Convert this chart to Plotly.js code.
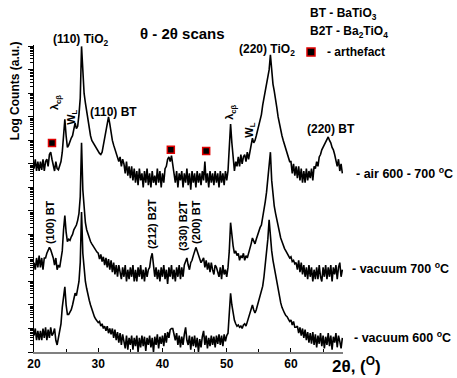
<!DOCTYPE html>
<html><head><meta charset="utf-8">
<script src="https://cdn.plot.ly/plotly-3.0.1.min.js"></script>
<style>html,body{margin:0;padding:0;background:#fff;}#chart{width:457px;height:378px;}</style>
</head><body><div id="chart"></div>
<script>
// 2θ sampling grid (degrees)
const TWO_THETA_START = 20;
const TWO_THETA_STEP = 0.2;

// log10(counts), one row per degree (x.0, x.2, x.4, x.6, x.8)
const logAir = [
 7.8, 8.2, 7.7, 8.1, 7.7,
 8.1, 7.75, 8.2, 7.7, 8.1,
 8.2, 7.9, 8.4, 8.5, 8.2,
 8.0, 7.7, 8.1, 7.8, 7.75,
 7.9, 8.1, 8.5, 9.4, 9.9,
 9.2, 8.7, 8.8, 9.0, 9.1,
 9.2, 9.5, 9.75, 9.5, 9.6,
 10.1, 10.8, 13.0, 11.6, 11.0,
 10.6, 10.2, 9.8, 9.5, 9.2,
 9.0, 8.9, 8.8, 8.7, 8.6,
 8.5, 8.45, 8.4, 8.5, 8.8,
 9.1, 9.5, 9.85, 10.0, 9.7,
 9.3, 9.0, 8.8, 8.6, 8.4,
 8.3, 8.1, 8.3, 7.9, 8.2,
 8.0, 7.6, 8.1, 7.5, 7.9,
 7.4, 7.9, 7.3, 7.8, 7.2,
 7.7, 7.1, 7.8, 7.3, 7.6,
 7.0, 7.7, 7.2, 7.8, 7.1,
 7.6, 7.0, 7.7, 7.2, 7.5,
 7.1, 7.8, 7.2, 7.7, 7.0,
 7.6, 7.2, 7.8, 7.9, 8.2,
 8.3, 8.1, 8.35, 7.9, 7.6,
 7.2, 7.7, 7.0, 7.6, 7.3,
 7.7, 7.0, 7.6, 7.2, 7.8,
 7.1, 7.6, 6.9, 7.7, 7.2,
 7.6, 7.0, 7.7, 7.2, 7.6,
 7.1, 7.7, 7.3, 8.1, 7.2,
 7.6, 7.0, 7.7, 7.2, 7.6,
 7.1, 7.7, 7.2, 7.6, 7.0,
 7.7, 7.2, 7.6, 7.1, 7.7,
 7.3, 7.7, 8.8, 9.7, 8.9,
 8.1, 7.7, 8.1, 7.9, 8.3,
 7.9, 8.4, 8.0, 8.3, 8.4,
 8.1, 8.5, 8.2, 8.5, 8.8,
 9.1, 8.9, 9.0, 9.2, 9.4,
 9.6, 9.85, 10.1, 10.5, 10.8,
 11.0, 11.3, 11.6, 12.0, 12.64,
 11.8, 11.4, 11.1, 10.8, 10.4,
 10.0, 9.7, 9.4, 9.2, 9.0,
 8.8, 8.6, 8.5, 8.3, 8.1,
 8.1, 7.6, 8.0, 7.5, 7.9,
 7.4, 7.9, 7.3, 7.8, 7.2,
 7.7, 7.2, 7.8, 7.3, 7.7,
 7.4, 7.8, 7.3, 7.9, 7.8,
 8.1, 7.9, 8.3, 8.4, 8.6,
 8.7, 8.8, 8.9, 9.0, 9.15,
 9.0, 8.9, 8.7, 8.6, 8.4,
 8.2, 7.9, 8.2, 7.7, 8.0,
 7.6
];

const logVac700 = [
 3.8, 3.5, 4.0, 3.6, 4.1,
 3.6, 4.0, 3.5, 4.0, 4.0,
 4.2, 4.3, 4.45, 4.35, 4.2,
 4.0, 3.7, 4.0, 3.5, 3.7,
 3.6, 3.9, 4.3, 5.2, 5.8,
 5.1, 4.7, 4.8, 4.75, 4.9,
 5.0, 5.2, 5.3, 5.4, 5.6,
 5.9, 6.6, 8.9, 6.9, 6.0,
 5.5, 5.2, 5.0, 4.8, 4.7,
 4.6, 4.5, 4.4, 4.3, 4.25,
 4.2, 3.95, 4.15, 3.85, 4.05,
 3.7, 4.0, 3.6, 3.95, 3.5,
 3.9, 3.4, 3.8, 3.3, 3.7,
 3.2, 3.7, 3.3, 3.1, 3.6,
 3.2, 3.7, 3.0, 3.5, 3.1,
 3.6, 3.2, 3.7, 3.0, 3.5,
 3.0, 3.6, 3.2, 3.7, 3.1,
 3.5, 3.0, 3.6, 3.2, 3.5,
 3.6, 4.0, 4.2, 3.7, 3.2,
 3.6, 3.1, 3.5, 3.0, 3.6,
 3.2, 3.7, 3.1, 3.5, 2.9,
 3.6, 3.2, 3.7, 3.1, 3.5,
 3.0, 3.6, 3.2, 3.7, 3.1,
 3.6, 3.2, 3.7, 3.9, 4.0,
 3.7, 3.5, 3.8, 3.9, 4.1,
 4.3, 4.45, 4.3, 4.1, 4.0,
 3.8, 3.9, 4.0, 3.6, 3.9,
 3.5, 3.8, 3.4, 3.8, 3.5,
 3.3, 3.7, 3.6, 3.4, 3.2,
 3.6, 3.1, 3.7, 3.3, 3.5,
 3.2, 3.6, 4.3, 5.5, 4.9,
 4.5, 4.2, 4.3, 4.1, 4.2,
 3.9, 4.1, 4.0, 4.2, 3.9,
 4.1, 4.0, 4.2, 4.3, 4.6,
 4.85, 4.7, 4.6, 4.8, 5.0,
 5.1, 5.3, 5.4, 5.7, 6.0,
 6.4, 6.8, 7.4, 8.0, 8.5,
 7.3, 6.6, 6.2, 5.9, 5.6,
 5.3, 5.0, 4.85, 4.7, 4.5,
 4.4, 4.3, 4.2, 4.1, 4.0,
 4.05, 3.85, 3.9, 3.75, 3.8,
 3.5, 3.9, 3.4, 3.8, 3.3,
 3.7, 3.2, 3.6, 3.1, 3.7,
 3.2, 3.6, 3.0, 3.5, 3.1,
 3.6, 3.1, 3.7, 3.2, 3.0,
 3.6, 3.2, 3.7, 3.1, 3.6,
 3.2, 3.7, 3.0, 3.6, 3.3,
 3.7, 3.1, 3.6, 3.8, 3.2,
 3.5
];

const logVac600 = [
 0.7, 1.0, 0.5, 0.9, 0.5,
 0.9, 0.5, 1.0, 0.6, 1.05,
 0.5, 0.95, 0.6, 1.05, 0.7,
 0.8, 1.0, 0.5, 0.3, 0.6,
 0.8, 1.2, 1.9, 2.5, 2.77,
 2.0, 1.6, 1.6, 1.7, 1.8,
 2.0, 2.3, 2.5, 2.4, 2.64,
 3.0, 3.8, 5.96, 4.2, 3.4,
 3.0, 2.7, 2.4, 2.2, 2.0,
 1.8, 1.65, 1.5, 1.4, 1.3,
 1.25, 1.3, 1.1, 1.2, 1.0,
 1.1, 0.9, 1.1, 0.8, 1.0,
 0.75, 1.0, 0.6, 0.95, 0.5,
 0.85, 0.4, 0.8, 0.3, 0.75,
 0.5, 0.15, 0.7, 0.1, 0.6,
 0.3, 0.7, 0.1, 0.6, 0.25,
 0.7, 0.0, 0.6, 0.2, 0.7,
 0.25, 0.65, 0.05, 0.6, 0.3,
 0.7, 0.2, 0.6, 0.0, 0.65,
 0.3, 0.75, 0.15, 0.65, 0.35,
 0.7, 0.25, 0.8, 0.4, 0.85,
 0.6, 0.95, 1.0, 1.0, 0.75,
 0.5, 0.8, 0.3, 0.7, 0.2,
 0.65, 0.3, 0.75, 1.05, 0.5,
 0.3, 0.7, 0.1, 0.65, 0.25,
 0.7, 0.2, 0.6, 0.0, 0.55,
 0.2, 0.65, 0.9, 0.3, 0.7,
 0.15, 0.6, 0.25, 0.7, 0.3,
 0.65, 0.2, 0.7, 0.35, 0.75,
 0.3, 0.7, 0.25, 0.75, 0.45,
 0.7, 0.8, 1.5, 2.5, 2.0,
 1.6, 1.35, 1.2, 1.1, 1.15,
 1.05, 1.1, 1.0, 1.15, 1.2,
 1.1, 1.3, 1.4, 1.6, 1.8,
 2.0, 1.8, 1.66, 1.8, 2.0,
 2.1, 2.3, 2.5, 2.8, 3.2,
 3.7, 4.2, 4.8, 5.62, 4.9,
 4.3, 3.9, 3.6, 3.3, 3.0,
 2.6, 2.3, 2.1, 1.9, 1.75,
 1.65, 1.55, 1.5, 1.4, 1.3,
 1.36, 1.15, 1.3, 1.05, 1.05,
 1.1, 0.8, 1.05, 0.7, 1.0,
 0.6, 0.95, 0.5, 0.85, 0.4,
 0.8, 0.35, 0.85, 0.3, 0.75,
 0.2, 0.7, 0.35, 0.8, 0.25,
 0.7, 0.15, 0.65, 0.3, 0.8,
 0.25, 0.7, 0.1, 0.65, 0.4,
 0.8, 0.2, 0.7, 0.45, 0.15,
 0.6
];

// artefact markers on the air-annealed pattern
const artefactX = [22.8, 41.3, 46.8];
const artefactLogY = [8.89, 8.6, 8.55];

const curveLabels = ['- air 600 - 700 <sup>o</sup>C', '- vacuum 700 <sup>o</sup>C', '- vacuum 600 <sup>o</sup>C'];

const twoTheta = logAir.map((_, i) => +(TWO_THETA_START + i * TWO_THETA_STEP).toFixed(2));
const toCounts = arr => arr.map(v => Math.pow(10, v));

const FONT = 'Liberation Sans, Arial, sans-serif';
const lineStyle = {color: '#000', width: 1.6};

const traces = [
  {x: twoTheta, y: toCounts(logVac600), mode: 'lines', line: lineStyle, hoverinfo: 'skip'},
  {x: twoTheta, y: toCounts(logVac700), mode: 'lines', line: lineStyle, hoverinfo: 'skip'},
  {x: twoTheta, y: toCounts(logAir), mode: 'lines', line: lineStyle, hoverinfo: 'skip'},
  {x: artefactX, y: toCounts(artefactLogY), mode: 'markers', hoverinfo: 'skip',
   marker: {symbol: 'square', size: 7, color: '#000', line: {color: '#e00000', width: 1.5}}}
];

const bold = (t) => '<b>' + t + '</b>';
const ann = [];
function pA(text, x, y, size, opts) {
  ann.push(Object.assign({text: bold(text), xref: 'paper', yref: 'paper', x: x, y: y,
    showarrow: false, xanchor: 'center', yanchor: 'middle', font: {family: FONT, size: size, color: '#000'}}, opts || {}));
}
function dA(text, x, y, size, angle) {
  ann.push({text: bold(text), xref: 'x', yref: 'y', x: x, y: y, showarrow: false,
    xanchor: 'center', yanchor: 'middle', textangle: angle || 0,
    font: {family: FONT, size: size, color: '#000'}});
}
pA('θ - 2θ scans', 0.482, 1.039, 15);
pA('(110) TiO<sub>2</sub>', 0.149, 1.016, 12);
pA('BT - BaTiO<sub>3</sub>', 0.887, 1.101, 12, {xanchor: 'left'});
pA('B2T - Ba<sub>2</sub>TiO<sub>4</sub>', 0.887, 1.042, 12, {xanchor: 'left'});
pA('- arthefact', 0.942, 0.977, 12, {xanchor: 'left'});
pA(curveLabels[0], 1.036, 0.583, 12.5, {xanchor: 'left'});
pA(curveLabels[1], 1.023, 0.274, 12.5, {xanchor: 'left'});
pA(curveLabels[2], 1.029, 0.049, 12.5, {xanchor: 'left'});
pA('Log Counts (a.u.)', -0.061, 0.85, 12, {textangle: -90});
pA('2θ, (<sup>O</sup>)', 0.958, -0.042, 17, {xanchor: 'left'});

dA('(110) BT', 32.3, 10.21, 12, 0);
dA('(220) TiO<sub>2</sub>', 56.27, 12.85, 12, 0);
dA('(220) BT', 66.2, 9.49, 12, 0);
dA('λ<sub>cβ</sub>', 23.3, 10.6, 11, -90);
dA('W<sub>L</sub>', 25.9, 10.0, 11, -90);
dA('λ<sub>cβ</sub>', 50.6, 10.2, 11, -90);
dA('W<sub>L</sub>', 53.6, 9.45, 11, -90);
dA('(100) BT', 22.5, 5.53, 11, -90);
dA('(212) B2T', 38.37, 5.45, 11, -90);
dA('(330) B2T', 43.2, 5.36, 11, -90);
dA('(200) BT', 45.2, 5.53, 11, -90);

const layout = {
  width: 457, height: 378,
  margin: {l: 34, r: 114, t: 45, b: 26, pad: 0},
  paper_bgcolor: '#fff', plot_bgcolor: '#fff',
  showlegend: false,
  font: {family: FONT, size: 12, color: '#000'},
  xaxis: {
    range: [20, 68.1], tick0: 20, dtick: 10, showgrid: false, zeroline: false,
    showline: true, linecolor: '#808080', linewidth: 2,
    ticks: 'inside', ticklen: 4, tickwidth: 1, tickcolor: '#000',
    minor: {dtick: 5, ticks: 'inside', ticklen: 3, tickwidth: 1, tickcolor: '#000'},
    tickfont: {family: FONT, size: 12, color: '#000', weight: 'bold'},
    fixedrange: true
  },
  yaxis: {
    type: 'log', range: [0, 13.06], showticklabels: false, showgrid: false, zeroline: false,
    showline: true, linecolor: '#000', linewidth: 1.5,
    ticks: 'outside', ticklen: 5, tickwidth: 1, tickcolor: '#000', dtick: 1,
    minor: {ticks: 'outside', ticklen: 2.5, tickwidth: 1, tickcolor: '#000', showgrid: false},
    fixedrange: true
  },
  annotations: ann,
  shapes: [
    {type: 'rect', xref: 'paper', yref: 'paper', x0: 0.8835, x1: 0.9094, y0: 0.964, y1: 0.99,
     fillcolor: '#000', line: {color: '#e00000', width: 1.5}}
  ]
};

Plotly.newPlot('chart', traces, layout, {staticPlot: true, displayModeBar: false});
</script>
</body></html>
